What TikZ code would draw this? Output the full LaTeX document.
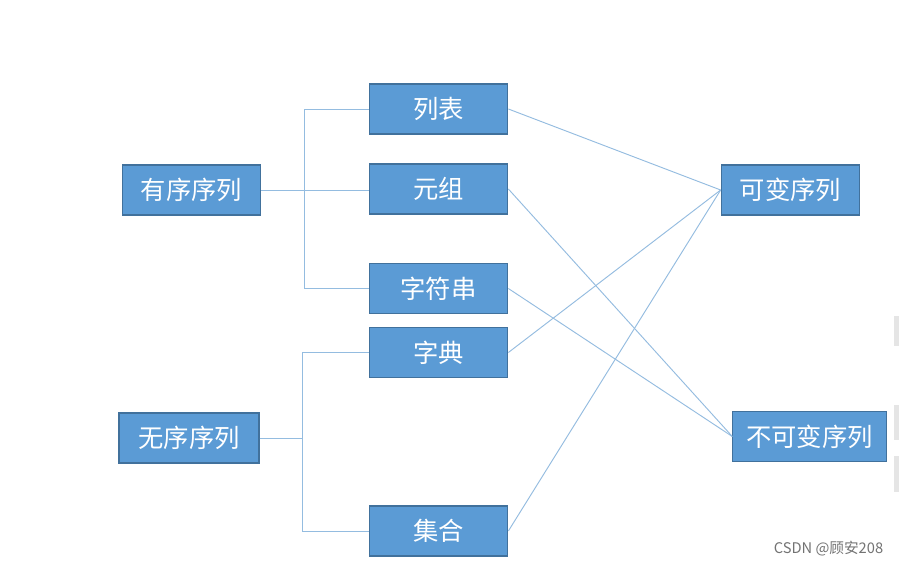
\documentclass[tikz,border=0pt]{standalone}
\usepackage{fontspec}
\setmainfont{Noto Sans CJK SC}
\begin{document}
\begin{tikzpicture}[x=0.75pt,y=-0.75pt,
  box/.style={draw=boxedge,fill=boxfill,line width=0.8pt,text=white,inner sep=0pt,
    font=\fontsize{19}{21}\selectfont},
  link/.style={draw=linkc,line width=0.7pt}]
\definecolor{boxfill}{HTML}{5B9BD5}
\definecolor{boxedge}{HTML}{41719C}
\definecolor{linkc}{HTML}{94BCE0}
\useasboundingbox[fill=white] (0,0) rectangle (899,566);
% faint scan artifacts
\fill[black!10] (894,316) rectangle (899,346);
\fill[black!10] (894,405) rectangle (899,440);
\fill[black!10] (894,456) rectangle (899,492);
% nodes
\node[box,minimum width=104pt,minimum height=37.5pt] (ordered) at (191.5,190) {有序序列};
\node[box,minimum width=105pt,minimum height=37.5pt] (unordered) at (189,438) {无序序列};
\node[box,minimum width=104pt,minimum height=37.5pt] (list) at (438.5,109) {列表};
\node[box,minimum width=104pt,minimum height=37.5pt] (tuple) at (438.5,189) {元组};
\node[box,minimum width=104pt,minimum height=37.5pt] (str) at (438.5,288.5) {字符串};
\node[box,minimum width=104pt,minimum height=37.5pt] (dict) at (438.5,352.5) {字典};
\node[box,minimum width=104pt,minimum height=37.5pt] (set) at (438.5,531) {集合};
\node[box,minimum width=104pt,minimum height=37.5pt] (mut) at (790.5,190) {可变序列};
\node[box,minimum width=115pt,minimum height=38pt] (immut) at (809.5,436.5) {不可变序列};
% tree connectors
\coordinate (t1) at (304,0);
\coordinate (t2) at (302,0);
\draw[link] (ordered.east) -- (ordered.east -| tuple.west);
\draw[link] (list.west) -| (t1 |- str.west) -- (str.west);
\draw[link] (dict.west) -| (t2 |- set.west) -- (set.west);
\draw[link] (unordered.east) -- (t2 |- unordered.east);
% cross connectors
\draw[link] (list.east) -- (mut.west);
\draw[link] (dict.east) -- (mut.west);
\draw[link] (set.east) -- (mut.west);
\draw[link] (tuple.east) -- (immut.west);
\draw[link] (str.east) -- (immut.west);
% watermark
\node[text=black!55,font=\fontsize{11}{13}\selectfont,inner sep=0pt] (wm) at (828.5,549) {CSDN @顾安208};
\end{tikzpicture}
\end{document}
